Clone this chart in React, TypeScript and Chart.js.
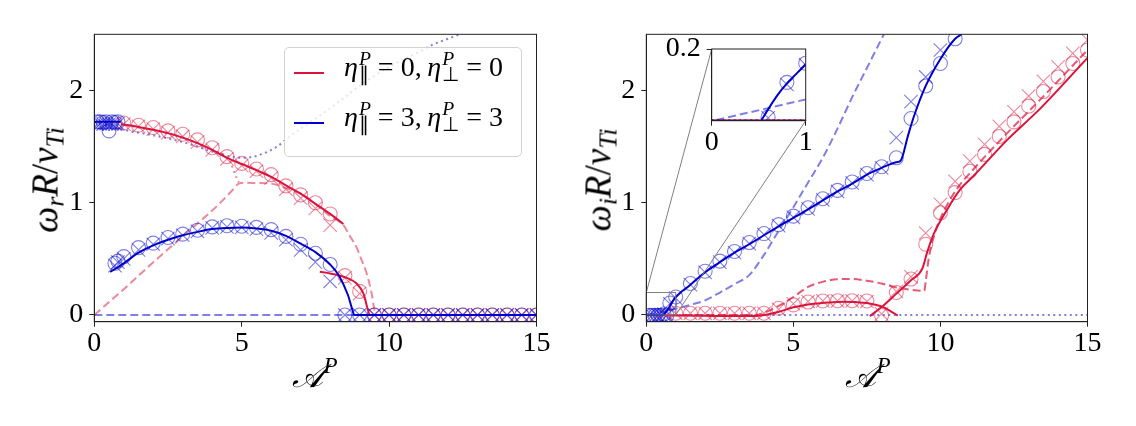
import { useEffect, useRef } from 'react';
import Chart from 'chart.js/auto';

// ---------- left panel: real part ----------
const L_BLUE_DOT_A = [0, 1, 2, 3, 3.5, 4, 4.5, 4.95, 5.4, 5.8, 6.2, 6.6, 7, 7.5, 8, 8.5, 9, 9.5, 10, 10.5, 11, 11.5, 12, 12.5];
const L_BLUE_DOT = [1.72, 1.65, 1.6, 1.54, 1.5, 1.455, 1.42, 1.4, 1.41, 1.445, 1.5, 1.585, 1.66, 1.75, 1.84, 1.94, 2.04, 2.13, 2.21, 2.28, 2.34, 2.41, 2.46, 2.51];
const L_RED_DOT_A = [0, 1, 2, 3, 4, 4.6, 4.75, 4.9];
const L_RED_DOT = [1.72, 1.69, 1.645, 1.58, 1.47, 1.37, 1.27, 1.18];
const L_BLUE_DASH_A = [0, 15];
const L_BLUE_DASH = [0, 0];
const L_RED_DASH_A = [0, 0.5, 1, 1.5, 2, 2.5, 3, 3.5, 4, 4.5, 4.75, 4.9, 5.2, 5.5, 6, 6.5, 7, 7.5, 8, 8.45, 8.7, 8.9, 9.05, 9.24, 9.4, 9.5, 9.55, 15];
const L_RED_DASH = [0, 0.115, 0.23, 0.35, 0.47, 0.585, 0.7, 0.815, 0.93, 1.06, 1.13, 1.17, 1.178, 1.175, 1.17, 1.13, 1.08, 0.99, 0.88, 0.8, 0.69, 0.6, 0.5, 0.37, 0.2, 0.05, 0, 0];
const L_BLUE_SOLID0_A = [0, 0.9];
const L_BLUE_SOLID0 = [1.72, 1.72];
const L_BLUE_SOLID_A = [0.54, 1, 1.5, 2, 2.5, 3, 3.5, 4, 4.5, 5, 5.5, 6, 6.5, 7, 7.5, 8, 8.3, 8.6, 8.75, 8.82, 15];
const L_BLUE_SOLID = [0.384, 0.46, 0.555, 0.62, 0.67, 0.71, 0.74, 0.765, 0.775, 0.778, 0.77, 0.75, 0.705, 0.635, 0.56, 0.45, 0.35, 0.18, 0.05, 0, 0];
const L_RED_SOLID1_A = [0.9, 1.5, 2, 2.5, 3, 3.5, 4, 4.5, 5, 5.5, 6, 6.5, 7, 7.5, 8, 8.45];
const L_RED_SOLID1 = [1.7, 1.675, 1.65, 1.62, 1.58, 1.53, 1.47, 1.4, 1.345, 1.29, 1.23, 1.155, 1.08, 0.99, 0.9, 0.81];
const L_RED_SOLID2_A = [7.65, 8, 8.57, 8.9, 9.13, 9.36, 9.5, 15];
const L_RED_SOLID2 = [0.385, 0.37, 0.33, 0.28, 0.19, 0, 0, 0];

const L_FINE_A = [0.1, 0.2, 0.3, 0.4, 0.5, 0.6, 0.7, 0.8];
const L_BLUE_FINE_O = [1.72, 1.72, 1.715, 1.72, 1.64, 1.72, 1.715, 1.72];
const L_BLUE_FINE_X = [1.7, 1.705, 1.7, 1.705, 1.7, 1.705, 1.7, 1.705];
const L_LOW_A = [0.7, 0.8, 1, 1.5, 2, 2.5, 3, 3.5, 4, 4.5, 5, 5.5, 6, 6.5, 7, 7.5, 8];
const L_BLUE_LOW_O = [0.46, 0.48, 0.52, 0.6, 0.64, 0.69, 0.72, 0.755, 0.785, 0.795, 0.79, 0.78, 0.76, 0.7, 0.63, 0.55, 0.45];
const L_BLUE_LOW_X = [0.44, 0.47, 0.5, 0.58, 0.63, 0.68, 0.71, 0.745, 0.775, 0.785, 0.78, 0.765, 0.73, 0.67, 0.58, 0.47, 0.3];
const L_RED_A = [1, 1.5, 2, 2.5, 3, 3.5, 4, 4.5, 5, 5.5, 6, 6.5, 7, 7.5, 8, 8.5, 9];
const L_RED_O = [1.71, 1.69, 1.67, 1.64, 1.61, 1.56, 1.49, 1.41, 1.35, 1.3, 1.25, 1.15, 1.07, 1.0, 0.9, 0.35, 0.21];
const L_RED_X = [1.7, 1.68, 1.655, 1.625, 1.59, 1.54, 1.47, 1.39, 1.33, 1.28, 1.22, 1.12, 1.04, 0.95, 0.8, 0.33, 0.19];
const L_BLUE_TAIL_A = [8.5, 9, 9.5, 10, 10.5, 11, 11.5, 12, 12.5, 13, 13.5, 14, 14.5, 15];
const L_BLUE_TAIL = [0, 0, 0, 0, 0, 0, 0, 0, 0, 0, 0, 0, 0, 0];
const L_RED_TAIL_A = [9.5, 10, 10.5, 11, 11.5, 12, 12.5, 13, 13.5, 14, 14.5, 15];
const L_RED_TAIL = [0, 0, 0, 0, 0, 0, 0, 0, 0, 0, 0, 0];

// ---------- right panel: imaginary part ----------
const R_BLUE_DOT_A = [0, 15];
const R_BLUE_DOT = [0, 0];
const R_BLUE_DASH_A = [0, 0.5, 1, 1.5, 2, 2.5, 3, 3.5, 4, 4.5, 5, 5.5, 6, 6.5, 7, 7.5, 8, 8.1];
const R_BLUE_DASH = [0, 0.025, 0.055, 0.09, 0.13, 0.2, 0.275, 0.355, 0.535, 0.75, 0.96, 1.18, 1.4, 1.66, 1.94, 2.2, 2.46, 2.51];
const R_RED_DASH_A = [0, 3.7, 4, 4.5, 5, 5.5, 6, 6.5, 7, 7.5, 8, 8.5, 9, 9.45, 9.5, 9.6, 9.8, 10, 10.5, 11.13, 12.27, 13.4, 15];
const R_RED_DASH = [0, 0, 0.02, 0.08, 0.16, 0.25, 0.295, 0.318, 0.32, 0.305, 0.28, 0.245, 0.225, 0.215, 0.3, 0.5, 0.72, 0.86, 1.1, 1.3, 1.62, 1.92, 2.36];
const R_RED_SOLID1_A = [0, 1, 2, 3, 3.5, 3.9, 4.45, 5, 5.7, 6.2, 6.7, 7.1, 7.5, 8.07, 8.3, 8.55];
const R_RED_SOLID1 = [0, -0.005, -0.008, -0.01, -0.01, -0.005, 0.024, 0.068, 0.1, 0.112, 0.118, 0.115, 0.106, 0.068, 0.035, -0.005];
const R_RED_SOLID2_A = [7.6, 8, 8.5, 9, 9.38, 9.55, 9.77, 10.23, 10.68, 11.13, 12.27, 13.4, 15];
const R_RED_SOLID2 = [-0.01, 0.07, 0.19, 0.31, 0.41, 0.56, 0.72, 0.94, 1.12, 1.24, 1.56, 1.84, 2.29];
const R_BLUE_SOLID_A = [0, 0.55, 1, 1.5, 2, 2.5, 3, 3.5, 4, 4.5, 5, 5.5, 6, 6.5, 7, 7.5, 8, 8.5, 8.65, 8.9, 9.1, 9.5, 10, 10.5, 10.72];
const R_BLUE_SOLID = [0, 0, 0.16, 0.27, 0.38, 0.47, 0.555, 0.63, 0.71, 0.79, 0.865, 0.94, 1.02, 1.1, 1.17, 1.25, 1.31, 1.36, 1.375, 1.6, 1.77, 2.04, 2.28, 2.46, 2.5];

const R_FINE_A = [0.1, 0.2, 0.3, 0.4, 0.5, 0.6, 0.7, 0.8];
const R_BLUE_FINE_O = [-0.004, -0.003, -0.004, -0.003, -0.004, 0.008, -0.003, 0.106];
const R_BLUE_FINE_X = [-0.003, -0.004, -0.003, -0.004, -0.003, 0.006, -0.004, 0.1];
const R_A = [1, 1.5, 2, 2.5, 3, 3.5, 4, 4.5, 5, 5.5, 6, 6.5, 7, 7.5, 8, 8.5, 9, 9.5, 10, 10.5, 11, 11.5, 12, 12.5, 13, 13.5, 14, 14.5, 15];
const R_RED_O = [0.015, 0.015, 0.015, 0.015, 0.015, 0.015, 0.015, 0.06, 0.09, 0.115, 0.125, 0.127, 0.127, 0.125, -0.005, 0.2, 0.32, 0.63, 0.91, 1.09, 1.28, 1.43, 1.59, 1.72, 1.86, 1.99, 2.12, 2.24, 2.36];
const R_RED_X = [0.015, 0.015, 0.015, 0.015, 0.015, 0.015, 0.015, 0.05, 0.1, 0.12, 0.125, 0.125, 0.125, 0.12, 0.01, 0.21, 0.34, 0.73, 0.985, 1.19, 1.37, 1.52, 1.68, 1.81, 1.95, 2.08, 2.21, 2.33, 2.45];
const R_BLUE_O = [0.16, 0.28, 0.39, 0.48, 0.565, 0.645, 0.725, 0.805, 0.88, 0.955, 1.035, 1.11, 1.185, 1.26, 1.32, 1.4, 1.75, 2.04, 2.24, 2.46];
const R_BLUE_X = [0.15, 0.27, 0.38, 0.47, 0.555, 0.635, 0.715, 0.795, 0.87, 0.945, 1.025, 1.1, 1.175, 1.25, 1.31, 1.58, 1.9, 2.12, 2.36];

// ---------- inset (zoom of right panel near the origin) ----------
const INSET_SOLID_A = [0.53, 0.6, 0.7, 0.8, 0.9, 1.0];
const INSET_SOLID = [0, 0.03, 0.07, 0.103, 0.13, 0.157];
const INSET_DASH_A = [0.05, 1.0];
const INSET_DASH = [0, 0.058];
const INSET_DOT_A = [0, 1];
const INSET_DOT = [0, 0];
const INSET_MARK_A = [0.6, 0.8, 1.0];
const INSET_O = [0.008, 0.106, 0.16];
const INSET_X = [0.006, 0.1, 0.155];

// ---------- axes ----------
const X_TICKS = [0, 5, 10, 15];
const Y_TICKS = [0, 1, 2];
const INSET_X_TICKS = [0, 1];
const INSET_Y_TICKS = [0.2];
const X_RANGE = [0, 15];
const Y_RANGE = [-0.06, 2.5];
const ZOOM_X = [0, 1];
const ZOOM_Y = [0, 0.2];

const FONT = '"Liberation Serif", "Times New Roman", serif';
const RED = 'rgb(220, 20, 60)';
const BLUE = 'rgb(0, 0, 205)';
const red = (a: number) => `rgba(220, 20, 60, ${a})`;
const blue = (a: number) => `rgba(0, 0, 205, ${a})`;

// page layout (px)
const LEFT_CANVAS = { left: 0, top: 0, width: 568, height: 426 };
const RIGHT_CANVAS = { left: 568, top: 0, width: 568, height: 426 };
const INSET_CANVAS = { left: 640, top: 20, width: 185, height: 136 };
const AREA_TOP = 34.3;
const AREA_BOTTOM = 321.7;
const LEFT_AREA = [94.3, 536.5];
const RIGHT_AREA = [646.3, 1087.5];
const INSET_AREA = { left: 711.7, right: 805.7, top: 49, bottom: 120.7 };

const pts = (xs: number[], ys: number[]) => ys.map((y, i) => ({ x: xs[i], y }));

const curve = (xs: number[], ys: number[], color: string, dash: number[] = [], width = 2) => ({
  data: pts(xs, ys),
  showLine: true,
  borderColor: color,
  borderWidth: width,
  borderDash: dash,
  pointRadius: 0,
  pointHoverRadius: 0,
  cubicInterpolationMode: 'monotone',
  tension: 0.4,
  fill: false,
  clip: 0,
});

const marks = (xs: number[], ys: number[], color: string, style: 'circle' | 'crossRot') => ({
  data: pts(xs, ys),
  showLine: false,
  pointStyle: style,
  pointRadius: style === 'circle' ? 7 : 9.5,
  pointHoverRadius: 0,
  pointBorderColor: color,
  pointBackgroundColor: 'rgba(0,0,0,0)',
  pointBorderWidth: 1.1,
  clip: 0,
});

// bottom-to-top list -> chart.js order (higher order is drawn first)
const stack = (list: any[]) => list.map((d, i) => ({ ...d, order: list.length - i }));

const framePlugin = {
  id: 'frame',
  beforeDraw(chart: any, _args: any, opts: any) {
    if (!opts || !opts.fill) return;
    const { ctx, chartArea: a } = chart;
    ctx.save();
    ctx.fillStyle = '#fff';
    ctx.fillRect(a.left, a.top, a.right - a.left, a.bottom - a.top);
    ctx.restore();
  },
  afterDraw(chart: any) {
    const { ctx, chartArea: a } = chart;
    ctx.save();
    ctx.strokeStyle = '#222';
    ctx.lineWidth = 1;
    ctx.strokeRect(a.left, a.top, a.right - a.left, a.bottom - a.top);
    ctx.restore();
  },
};

const insetMarkPlugin = {
  id: 'insetMark',
  afterDatasetsDraw(chart: any) {
    const { ctx, scales } = chart;
    const x0 = scales.x.getPixelForValue(ZOOM_X[0]);
    const x1 = scales.x.getPixelForValue(ZOOM_X[1]);
    const y0 = scales.y.getPixelForValue(ZOOM_Y[0]);
    const y1 = scales.y.getPixelForValue(ZOOM_Y[1]);
    const ox = RIGHT_CANVAS.left;
    ctx.save();
    ctx.strokeStyle = 'rgb(128,128,128)';
    ctx.lineWidth = 1;
    ctx.strokeRect(x0, y1, x1 - x0, y0 - y1);
    ctx.beginPath();
    ctx.moveTo(x0, y1);
    ctx.lineTo(INSET_AREA.left - ox, INSET_AREA.top);
    ctx.moveTo(x1, y0);
    ctx.lineTo(INSET_AREA.right - ox, INSET_AREA.bottom);
    ctx.stroke();
    ctx.restore();
  },
};

const axis = (range: number[], ticks: number[], fit: (s: any) => void, pad: number) => ({
  type: 'linear',
  min: range[0],
  max: range[1],
  afterBuildTicks: (s: any) => {
    s.ticks = ticks.map((v) => ({ value: v }));
  },
  afterFit: fit,
  ticks: {
    font: { family: FONT, size: 28 },
    color: '#000',
    padding: pad,
    autoSkip: false,
    maxRotation: 0,
    callback: (v: any) => String(v),
  },
  grid: { drawOnChartArea: false, drawTicks: true, tickLength: 5, color: '#222', lineWidth: 1 },
  border: { display: true, color: '#222', width: 1 },
});

const makeConfig = (
  datasets: any[],
  box: { left: number; top: number; width: number; height: number },
  area: { left: number; right: number; top: number; bottom: number },
  xr: number[], yr: number[], xt: number[], yt: number[],
  plugins: any[], fill: boolean,
) => ({
  type: 'scatter',
  data: { datasets },
  plugins: [framePlugin, ...plugins],
  options: {
    responsive: false,
    animation: false,
    events: [],
    layout: {
      padding: { left: 0, top: area.top - box.top, right: box.left + box.width - area.right, bottom: 0 },
    },
    scales: {
      x: axis(xr, xt, (s: any) => { s.height = box.top + box.height - area.bottom; }, 0),
      y: axis(yr, yt, (s: any) => { s.width = area.left - box.left; }, 6),
    },
    plugins: { legend: { display: false }, tooltip: { enabled: false }, frame: { fill } },
  },
});

function ChartCanvas({ box, config }: { box: { left: number; top: number; width: number; height: number }; config: () => any }) {
  const ref = useRef<HTMLCanvasElement>(null);
  useEffect(() => {
    if (!ref.current) return;
    const chart = new Chart(ref.current, config());
    return () => chart.destroy();
  }, []);
  return (
    <canvas
      ref={ref}
      width={box.width}
      height={box.height}
      style={{ position: 'absolute', left: box.left, top: box.top, width: box.width, height: box.height }}
    />
  );
}

const leftDatasets = () =>
  stack([
    curve(L_BLUE_DOT_A, L_BLUE_DOT, blue(0.5), [2, 3.5]),
    curve(L_RED_DOT_A, L_RED_DOT, red(0.5), [2, 3.5]),
    curve(L_BLUE_DASH_A, L_BLUE_DASH, blue(0.5), [8, 4]),
    curve(L_RED_DASH_A, L_RED_DASH, red(0.5), [8, 4]),
    marks(L_RED_A, L_RED_O, red(0.5), 'circle'),
    marks(L_RED_A, L_RED_X, red(0.5), 'crossRot'),
    marks(L_RED_TAIL_A, L_RED_TAIL, red(0.5), 'circle'),
    marks(L_RED_TAIL_A, L_RED_TAIL, red(0.5), 'crossRot'),
    marks(L_FINE_A, L_BLUE_FINE_O, blue(0.5), 'circle'),
    marks(L_FINE_A, L_BLUE_FINE_X, blue(0.5), 'crossRot'),
    marks(L_LOW_A, L_BLUE_LOW_O, blue(0.5), 'circle'),
    marks(L_LOW_A, L_BLUE_LOW_X, blue(0.5), 'crossRot'),
    marks(L_BLUE_TAIL_A, L_BLUE_TAIL, blue(0.5), 'circle'),
    marks(L_BLUE_TAIL_A, L_BLUE_TAIL, blue(0.5), 'crossRot'),
    curve(L_RED_SOLID1_A, L_RED_SOLID1, RED),
    curve(L_RED_SOLID2_A, L_RED_SOLID2, RED),
    curve(L_BLUE_SOLID0_A, L_BLUE_SOLID0, BLUE),
    curve(L_BLUE_SOLID_A, L_BLUE_SOLID, BLUE),
  ]);

const rightDatasets = () =>
  stack([
    curve(R_BLUE_DOT_A, R_BLUE_DOT, blue(0.5), [2, 3.5]),
    curve(R_BLUE_DASH_A, R_BLUE_DASH, blue(0.5), [8, 4]),
    curve(R_RED_DASH_A, R_RED_DASH, red(0.7), [8, 4]),
    marks(R_A, R_RED_O, red(0.5), 'circle'),
    marks(R_A, R_RED_X, red(0.5), 'crossRot'),
    marks(R_FINE_A, R_BLUE_FINE_O, blue(0.5), 'circle'),
    marks(R_FINE_A, R_BLUE_FINE_X, blue(0.5), 'crossRot'),
    marks(R_A.slice(0, R_BLUE_O.length), R_BLUE_O, blue(0.5), 'circle'),
    marks(R_A.slice(0, R_BLUE_X.length), R_BLUE_X, blue(0.5), 'crossRot'),
    curve(R_RED_SOLID1_A, R_RED_SOLID1, RED),
    curve(R_RED_SOLID2_A, R_RED_SOLID2, RED),
    curve(R_BLUE_SOLID_A, R_BLUE_SOLID, BLUE),
  ]);

const insetDatasets = () =>
  stack([
    curve(INSET_DOT_A, INSET_DOT, blue(0.5), [2, 3.5]),
    curve(INSET_DASH_A, INSET_DASH, blue(0.5), [8, 4]),
    marks(INSET_MARK_A, INSET_O, blue(0.5), 'circle'),
    marks(INSET_MARK_A, INSET_X, blue(0.5), 'crossRot'),
    curve(INSET_DOT_A, INSET_DOT, 'rgba(120,0,60,0.8)', [], 1.5),
    curve(INSET_SOLID_A, INSET_SOLID, BLUE),
  ]);

const sub = { fontSize: '0.7em', verticalAlign: '-0.25em', lineHeight: 0 } as const;

function Eta({ low }: { low: string }) {
  return (
    <span>
      <i>η</i>
      <span style={{ display: 'inline-block', verticalAlign: '-5px', fontSize: '0.7em', lineHeight: '16px', marginLeft: 1 }}>
        <i style={{ display: 'block' }}>P</i>
        <span style={{ display: 'block' }}>{low}</span>
      </span>
    </span>
  );
}

const eq = { margin: '0 7px' };

function LegendRow({ top, color, a, b }: { top: number; color: string; a: string; b: string }) {
  return (
    <>
      <div style={{ position: 'absolute', left: 9, top: top - 1, width: 30, height: 2, background: color }} />
      <div style={{ position: 'absolute', left: 59, top: top - 22, fontSize: 28, lineHeight: '28px', whiteSpace: 'nowrap' }}>
        <Eta low="∥" />
        <span style={eq}>=</span>
        {a},&thinsp;
        <Eta low="⊥" />
        <span style={eq}>=</span>
        {b}
      </div>
    </>
  );
}

function YTitle({ cx, cy, part }: { cx: number; cy: number; part: string }) {
  return (
    <div
      style={{
        position: 'absolute', left: cx, top: cy, transform: 'translate(-50%, -50%) rotate(-90deg)',
        fontSize: 37, lineHeight: '37px', whiteSpace: 'nowrap',
      }}
    >
      <i>ω</i><i style={sub}>{part}</i><i>R</i>/<i>v</i><i style={sub}>Ti</i>
    </div>
  );
}

function XTitle({ cx, cy }: { cx: number; cy: number }) {
  return (
    <div
      style={{
        position: 'absolute', left: cx, top: cy, transform: 'translate(-50%, -50%)',
        fontSize: 33, lineHeight: '36px', whiteSpace: 'nowrap',
      }}
    >
      <span style={{ fontFamily: '"DejaVu Serif", "DejaVu Sans", serif', fontStyle: 'italic' }}>𝒜</span>
      <i style={{ fontSize: '0.7em', verticalAlign: '0.6em', lineHeight: 0 }}>P</i>
    </div>
  );
}

export default function App() {
  const leftArea = { left: LEFT_AREA[0], right: LEFT_AREA[1], top: AREA_TOP, bottom: AREA_BOTTOM };
  const rightArea = { left: RIGHT_AREA[0], right: RIGHT_AREA[1], top: AREA_TOP, bottom: AREA_BOTTOM };
  return (
    <div style={{ position: 'fixed', left: 0, top: 0, width: 1136, height: 426, background: '#fff', fontFamily: FONT, color: '#000', overflow: 'hidden' }}>
      <ChartCanvas
        box={LEFT_CANVAS}
        config={() => makeConfig(leftDatasets(), LEFT_CANVAS, leftArea, X_RANGE, Y_RANGE, X_TICKS, Y_TICKS, [], false)}
      />
      <ChartCanvas
        box={RIGHT_CANVAS}
        config={() => {
          const shifted = { ...rightArea, left: rightArea.left - RIGHT_CANVAS.left, right: rightArea.right - RIGHT_CANVAS.left };
          return makeConfig(rightDatasets(), { ...RIGHT_CANVAS, left: 0 }, shifted, X_RANGE, Y_RANGE, X_TICKS, Y_TICKS, [insetMarkPlugin], false);
        }}
      />
      <ChartCanvas
        box={INSET_CANVAS}
        config={() => {
          const c = INSET_CANVAS;
          const area = { left: INSET_AREA.left - c.left, right: INSET_AREA.right - c.left, top: INSET_AREA.top - c.top, bottom: INSET_AREA.bottom - c.top };
          return makeConfig(insetDatasets(), { ...c, left: 0, top: 0 }, area, ZOOM_X, [-0.002, ZOOM_Y[1]], INSET_X_TICKS, INSET_Y_TICKS, [], true);
        }}
      />
      <div
        style={{
          position: 'absolute', left: 284, top: 47, width: 238, height: 110, boxSizing: 'border-box',
          border: '1px solid rgb(210,210,210)', borderRadius: 5, background: 'rgba(255,255,255,0.8)',
        }}
      >
        <LegendRow top={25} color={RED} a="0" b="0" />
        <LegendRow top={75} color={BLUE} a="3" b="3" />
      </div>
      <YTitle cx={45} cy={180} part="r" />
      <YTitle cx={598} cy={180} part="i" />
      <XTitle cx={315} cy={376} />
      <XTitle cx={868} cy={376} />
    </div>
  );
}
